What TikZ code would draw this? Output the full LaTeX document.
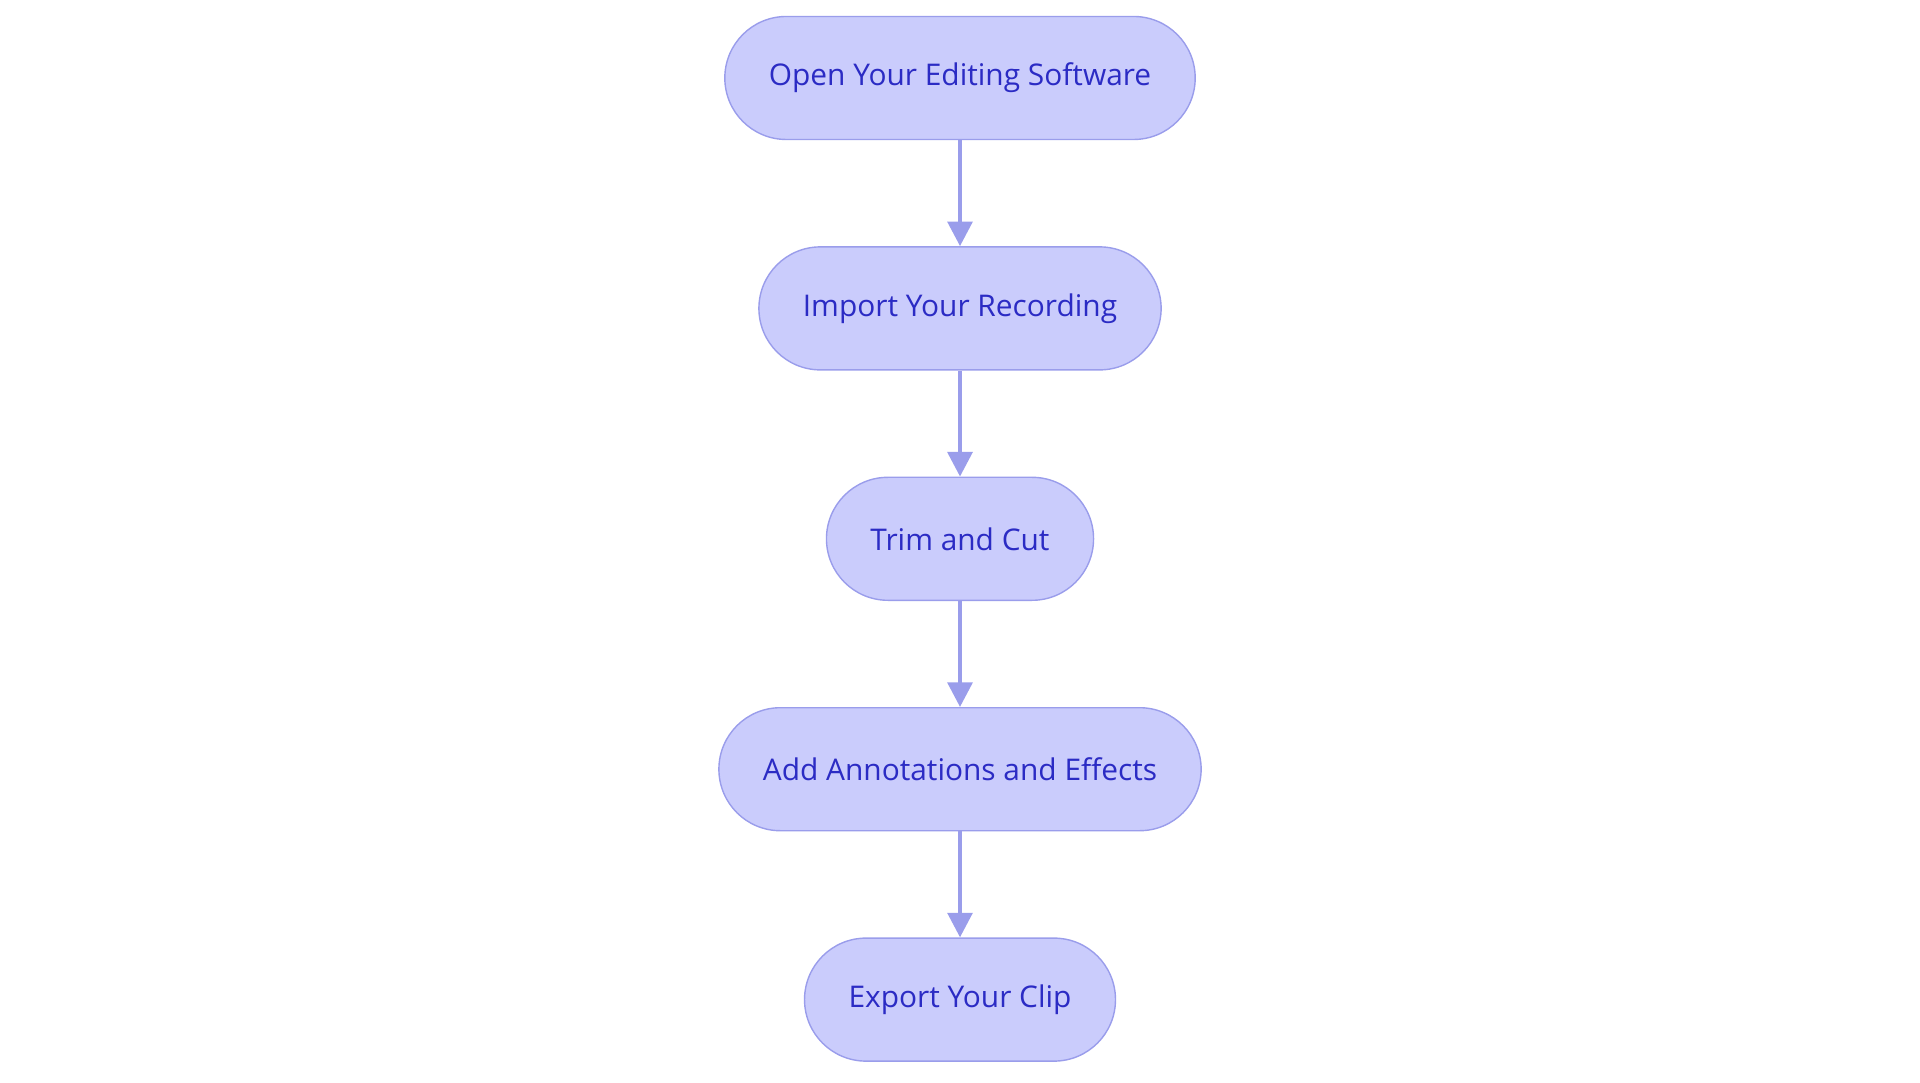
\documentclass[tikz,border=0pt]{standalone}
\usepackage{fontspec}
\setmainfont{Open Sans}
\usetikzlibrary{arrows.meta}
\usetikzlibrary{positioning}
\definecolor{stepfill}{HTML}{CACCFC}
\definecolor{stepline}{HTML}{9A9DEB}
\definecolor{steptext}{HTML}{2B2BC4}
\tikzset{
  stepbox/.style={draw=stepline, fill=stepfill, text=steptext, rounded corners=0.615cm,
    minimum height=1.23cm, inner xsep=0.44cm, font=\fontsize{8.5}{10}\selectfont},
  flow/.style={draw=stepline, line width=1.2pt, -{Triangle[length=7pt,width=7pt]}}
}
\begin{document}
\begin{tikzpicture}[node distance=1.06cm]
\useasboundingbox (0,0) rectangle (19.2,10.83);
% steps
\node[stepbox] (open) at (9.6,10.05) {Open Your Editing Software};
\node[stepbox, below=of open] (import) {Import Your Recording};
\node[stepbox, below=of import] (trim) {Trim and Cut};
\node[stepbox, below=of trim] (annot) {Add Annotations and Effects};
\node[stepbox, below=of annot] (export) {Export Your Clip};
% arrows
\draw[flow] (open) -- (import);
\draw[flow] (import) -- (trim);
\draw[flow] (trim) -- (annot);
\draw[flow] (annot) -- (export);
\end{tikzpicture}
\end{document}
